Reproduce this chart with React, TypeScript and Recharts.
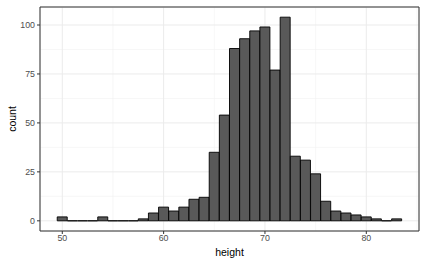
import { ComposedChart, Bar, XAxis, YAxis, CartesianGrid, ReferenceArea } from 'recharts';

// bin centres (binwidth 1) and counts
const binMids = [
  50, 51, 52, 53, 54, 55, 56, 57, 58, 59, 60, 61, 62, 63, 64, 65, 66,
  67, 68, 69, 70, 71, 72, 73, 74, 75, 76, 77, 78, 79, 80, 81, 82, 83,
];
const counts = [
  2, 0, 0, 0, 2, 0, 0, 0, 1, 4, 7, 5, 7, 11, 12, 35, 54,
  88, 93, 97, 99, 77, 104, 33, 31, 24, 10, 5, 4, 3, 2, 1, 0, 1,
];

const xTicks = [50, 60, 70, 80];
const yTicks = [0, 25, 50, 75, 100];
const xMinor = [55, 65, 75, 85];
const yMinor = [12.5, 37.5, 62.5, 87.5];
const xDomain = [47.8, 85.2];
const yDomain = [-5.2, 109.2];

const data = binMids.map((mid, i) => ({ mid, count: counts[i] }));

const FONT = '"Liberation Sans", Arial, sans-serif';

// outline drawn as a path so zero-count bins still show the flat line
function HistBar(props: any) {
  const { x, y, width, height } = props;
  if (x == null || y == null || width == null) return null;
  const h = height || 0;
  const d = `M${x},${y + h}L${x},${y}L${x + width},${y}L${x + width},${y + h}Z`;
  return <path d={d} fill="#595959" stroke="#000000" strokeWidth={0.9} />;
}

export default function App() {
  return (
    <div style={{ width: 441, height: 266, background: '#fff', fontFamily: FONT }}>
      <style>{'body{margin:0}'}</style>
      <ComposedChart
        width={441}
        height={266}
        data={data}
        margin={{ top: 7, right: 22, bottom: 0, left: 0 }}
        barCategoryGap={0}
        barGap={0}
      >
        {/* minor grid on hidden axes, drawn first */}
        <CartesianGrid xAxisId="minor" yAxisId="minor" stroke="#F2F2F2" strokeWidth={0.6} />
        <CartesianGrid stroke="#EBEBEB" strokeWidth={1} />
        <XAxis xAxisId="minor" dataKey="mid" type="number" domain={xDomain} ticks={xMinor} allowDataOverflow hide />
        <YAxis yAxisId="minor" type="number" domain={yDomain} ticks={yMinor} allowDataOverflow hide />
        <XAxis
          dataKey="mid"
          type="number"
          domain={xDomain}
          ticks={xTicks}
          allowDataOverflow
          height={35}
          axisLine={false}
          tickSize={3}
          tickLine={{ stroke: '#333333' }}
          tick={{ fill: '#4D4D4D', fontSize: 8.8, fontFamily: FONT }}
          tickMargin={1}
          label={{ value: 'height', position: 'insideBottom', offset: 10, fill: '#000', fontSize: 10.5, fontFamily: FONT }}
        />
        <YAxis
          type="number"
          domain={yDomain}
          ticks={yTicks}
          allowDataOverflow
          width={40}
          axisLine={false}
          tickSize={3}
          tickLine={{ stroke: '#333333' }}
          tick={{ fill: '#4D4D4D', fontSize: 8.8, fontFamily: FONT }}
          tickMargin={2}
          label={{
            content: ({ viewBox }: any) => (
              <text
                x={12}
                y={viewBox.y + viewBox.height / 2}
                transform={`rotate(-90, 12, ${viewBox.y + viewBox.height / 2})`}
                textAnchor="middle"
                dominantBaseline="central"
                fill="#000"
                fontSize={10.5}
                fontFamily={FONT}
              >
                count
              </text>
            ),
          }}
        />
        <Bar dataKey="count" shape={HistBar} isAnimationActive={false} />
        <ReferenceArea
          x1={xDomain[0]}
          x2={xDomain[1]}
          y1={yDomain[0]}
          y2={yDomain[1]}
          fill="none"
          stroke="#333333"
          strokeWidth={1}
          ifOverflow="visible"
        />
      </ComposedChart>
    </div>
  );
}
